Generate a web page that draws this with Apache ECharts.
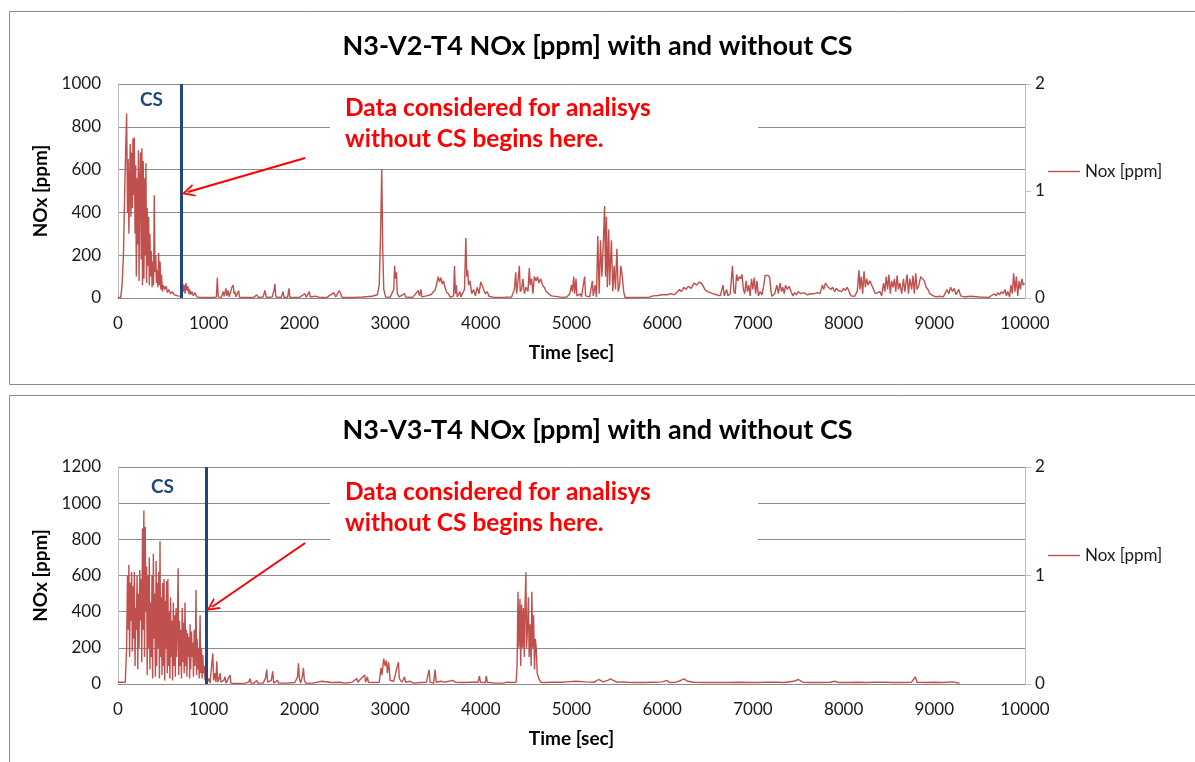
<!DOCTYPE html>
<html>
<head>
<meta charset="utf-8">
<script src="https://cdn.jsdelivr.net/npm/echarts@6/dist/echarts.min.js"></script>
<style>
html,body{margin:0;padding:0;background:#fff;}
#chart{width:1195px;height:762px;}
</style>
</head>
<body>
<div id="chart"></div>
<script>
// ---------- DATA ----------
const titleTop = 'N3-V2-T4 NOx [ppm] with and without CS';
const titleBottom = 'N3-V3-T4 NOx [ppm] with and without CS';
const seriesName = 'Nox [ppm]';
const xAxisName = 'Time [sec]';
const yAxisName = 'NOx [ppm]';
const noteLines = ['Data considered for analisys', 'without CS begins here.'];
const csLabel = 'CS';

// N3-V2-T4 (top)
const timeV2 = [0,30,45,60,75,85,95,105,112,120,128,135,142,150,158,165,172,180,188,195,202,210,218,225,232,240,248,256,263,270,278,286,293,300,308,315,322,330,338,345,352,360,368,376,384,392,400,408,416,424,432,440,448,456,464,472,480,490,500,515,530,545,560,580,600,620,640,660,680,700,712,720,730,740,750,760,770,780,790,800,815,830,850,870,900,950,1000,1060,1085,1095,1105,1140,1160,1170,1190,1200,1215,1225,1240,1255,1270,1280,1290,1300,1330,1340,1400,1500,1530,1545,1600,1620,1635,1700,1720,1730,1740,1800,1820,1830,1870,1885,1895,1950,2000,2060,2075,2110,2120,2180,2220,2300,2380,2400,2440,2455,2470,2500,2600,2700,2800,2860,2880,2895,2908,2918,2930,2950,3000,3040,3050,3060,3070,3080,3100,3160,3170,3250,3310,3325,3340,3350,3400,3450,3500,3530,3545,3560,3575,3590,3605,3620,3640,3665,3700,3710,3720,3730,3740,3770,3780,3820,3835,3845,3855,3865,3880,3900,3920,3940,3960,3980,4000,4015,4030,4050,4070,4090,4150,4250,4340,4370,4385,4395,4410,4425,4435,4450,4465,4480,4500,4520,4535,4545,4560,4575,4590,4610,4625,4640,4660,4680,4700,4720,4750,4780,4800,4900,4950,4980,5000,5010,5025,5035,5050,5060,5095,5110,5145,5155,5200,5230,5240,5260,5275,5290,5305,5320,5335,5350,5365,5375,5385,5395,5410,5420,5440,5455,5470,5485,5500,5515,5530,5545,5560,5575,5590,5700,5850,5900,5950,6000,6050,6100,6130,6160,6190,6210,6240,6260,6290,6320,6350,6380,6410,6440,6470,6500,6530,6560,6600,6640,6670,6685,6710,6725,6750,6775,6790,6805,6820,6835,6850,6865,6880,6895,6910,6925,6940,6955,6970,6985,7000,7015,7030,7045,7060,7080,7100,7120,7135,7150,7170,7185,7200,7210,7240,7265,7280,7300,7315,7330,7345,7360,7380,7400,7420,7440,7460,7480,7500,7530,7560,7600,7640,7680,7710,7740,7765,7780,7800,7820,7840,7860,7880,7900,7920,7940,7960,7980,8000,8020,8040,8060,8080,8100,8120,8150,8170,8180,8195,8210,8225,8240,8255,8270,8290,8310,8330,8350,8370,8400,8420,8440,8455,8470,8485,8500,8515,8530,8545,8560,8575,8590,8605,8620,8640,8660,8675,8700,8715,8730,8750,8765,8780,8795,8810,8830,8850,8870,8890,8910,8930,8950,8970,8990,9020,9060,9100,9140,9160,9180,9200,9220,9240,9270,9290,9330,9400,9500,9600,9660,9680,9700,9720,9740,9760,9780,9795,9810,9830,9845,9860,9875,9890,9905,9920,9935,9950,9965,9980,9995];
const noxV2 = [2,3,60,200,520,700,862,400,650,300,560,720,380,680,420,745,480,750,300,620,100,560,250,690,80,540,680,180,700,60,640,90,560,200,630,70,420,150,380,60,300,100,220,50,170,60,480,120,200,70,130,50,210,60,170,40,110,30,60,40,55,25,40,20,30,15,20,10,12,8,70,30,60,20,70,35,55,20,40,15,30,10,25,5,3,2,3,2,5,95,5,3,30,8,45,10,35,5,25,50,60,20,30,5,35,3,2,3,15,3,5,35,3,5,35,65,5,3,30,3,3,45,3,2,3,20,3,30,5,8,3,2,25,5,35,20,3,2,3,5,8,15,60,300,603,250,40,5,3,40,150,90,120,20,5,20,5,3,35,10,40,5,10,15,40,100,75,95,65,80,50,30,20,3,10,150,20,60,5,30,5,40,280,100,130,60,80,20,40,10,50,20,75,60,40,20,30,8,3,3,5,40,120,20,80,150,30,40,90,20,50,30,140,60,90,20,100,80,100,70,90,60,50,30,20,10,5,3,5,20,60,30,100,20,90,10,20,5,100,10,5,80,10,60,5,290,20,270,100,250,430,100,380,50,320,60,270,30,150,40,230,30,60,150,100,30,2,3,3,10,12,15,15,20,15,25,40,30,50,40,55,45,70,60,75,65,40,30,25,20,15,10,60,10,40,10,20,150,30,20,110,80,100,90,110,40,20,80,30,60,10,90,40,95,20,80,10,30,15,60,105,110,105,95,30,8,20,60,20,70,30,50,20,60,40,55,30,10,25,15,30,20,25,15,20,20,25,20,60,40,70,55,60,40,50,30,45,35,40,30,45,35,50,30,10,15,8,30,130,40,100,20,125,50,90,60,80,60,40,20,15,30,10,70,30,100,40,110,20,80,50,90,30,105,40,70,20,90,30,110,20,90,40,105,20,115,40,60,100,95,80,50,40,20,15,10,5,8,5,40,20,50,30,45,15,40,10,5,8,5,3,20,10,25,15,30,20,40,10,30,5,60,20,115,30,100,10,80,40,90,60,70];
const csTimeV2 = 700;

// N3-V3-T4 (bottom)
const timeV3 = [0,50,80,95,105,112,120,128,135,142,150,158,165,172,180,188,195,202,210,218,225,232,240,248,255,262,270,277,285,292,300,307,315,322,330,337,345,352,360,367,375,382,390,397,405,412,420,427,435,442,450,457,463,470,478,485,492,500,508,515,522,530,536,543,550,557,565,572,580,587,595,602,610,617,625,632,640,647,655,663,670,678,685,692,700,708,715,722,730,739,746,753,760,767,775,782,790,795,802,810,817,825,832,840,847,853,860,866,873,880,888,895,905,912,920,928,935,942,950,960,970,985,1000,1015,1045,1055,1070,1080,1089,1100,1115,1125,1135,1165,1180,1190,1210,1236,1245,1300,1400,1440,1456,1466,1500,1530,1540,1600,1625,1640,1650,1690,1706,1716,1760,1770,1850,1950,1980,1990,2000,2015,2035,2044,2055,2070,2150,2250,2265,2350,2450,2500,2580,2633,2645,2670,2690,2720,2730,2750,2760,2800,2880,2900,2910,2930,2945,2960,2970,2985,3000,3040,3080,3092,3102,3130,3160,3170,3220,3260,3330,3400,3430,3441,3480,3497,3508,3560,3600,3690,3710,3720,3800,3900,3970,3985,3995,4050,4060,4072,4150,4250,4287,4350,4390,4400,4410,4420,4432,4440,4450,4460,4470,4480,4488,4497,4505,4515,4525,4533,4545,4555,4563,4572,4582,4592,4602,4612,4622,4640,4662,4700,4800,4900,4950,5050,5150,5250,5298,5320,5350,5400,5430,5460,5500,5560,5620,5700,5800,5900,6000,6055,6080,6150,6200,6240,6280,6350,6450,6550,6650,6750,6850,6950,7050,7150,7250,7350,7450,7500,7550,7650,7750,7850,7900,7950,8050,8150,8250,8350,8450,8550,8650,8750,8790,8810,8900,9000,9100,9200,9240,9280];
const noxV3 = [10,10,10,200,600,300,660,150,560,350,620,180,540,250,620,100,420,300,600,80,500,200,630,350,580,120,860,300,960,150,870,400,650,50,600,200,700,80,450,150,600,30,720,250,500,40,680,100,560,200,620,30,790,150,480,50,560,100,580,20,460,200,570,60,580,100,400,30,480,150,350,20,450,100,380,40,420,150,330,640,50,350,100,300,30,420,120,340,60,450,100,300,40,280,150,260,30,330,80,290,150,230,40,300,100,200,520,50,250,80,200,30,380,60,200,30,160,60,100,20,50,10,30,5,170,20,60,10,125,10,30,60,10,20,40,5,10,50,5,3,5,10,30,5,5,20,5,5,30,80,10,20,70,5,20,5,5,8,40,115,30,5,50,90,20,5,5,15,5,8,10,5,10,30,10,25,15,50,10,40,10,8,10,90,50,140,100,130,60,120,20,15,100,120,30,10,40,10,15,5,8,10,80,10,5,80,10,15,10,20,25,10,8,10,10,45,10,8,45,10,5,5,10,8,10,100,510,200,470,100,440,200,420,150,440,618,200,320,480,150,330,100,510,200,380,80,250,190,60,30,10,8,10,10,12,15,12,10,25,15,12,20,28,20,10,12,10,8,8,10,12,20,8,10,18,28,15,10,8,8,8,8,10,8,8,10,10,8,15,25,10,8,8,10,15,8,8,10,8,10,10,8,8,10,40,10,8,10,8,12,8,5];
const csTimeV3 = 978;

// axis ranges
const xMin = 0, xMax = 10000, xStep = 1000;
const yMaxV2 = 1000, yMaxV3 = 1200, yStep = 200;
const rightMax = 2, rightStep = 1;

// annotation arrows (tail, head) in data units
const arrowV2 = [[2063, 654], [770, 495]];
const arrowV3 = [[2063, 780], [1035, 426]];

// ---------- STYLE ----------
const FONT = 'Lato, "Open Sans", sans-serif';
const RED = '#C0504D';
const BLUE = '#1F497D';
const GRID = '#8C8C8C';
const AXIS = '#BFBFBF';
const chevron = 'path://M0,12 L6,0 L12,12 L10.2,12 L6,3.6 L1.8,12 Z';
const plain = v => String(v);

function pairs(t, v) { return t.map((x, i) => [x, v[i]]); }

function xAxisCfg(gi) {
  return {
    type: 'value', gridIndex: gi, min: xMin, max: xMax, interval: xStep,
    name: xAxisName, nameLocation: 'middle', nameGap: 45,
    nameTextStyle: { fontFamily: FONT, fontWeight: 'bold', fontSize: 19, color: '#000' },
    axisLine: { show: true, lineStyle: { color: GRID, width: 1 } },
    axisTick: { show: false },
    axisLabel: { fontFamily: FONT, fontSize: 17, color: '#1a1a1a', margin: 17, formatter: plain },
    splitLine: { show: false }
  };
}
function yLeftCfg(gi, max) {
  return {
    type: 'value', gridIndex: gi, min: 0, max: max, interval: yStep, position: 'left',
    name: yAxisName, nameLocation: 'middle', nameGap: 62, nameRotate: 90,
    nameTextStyle: { fontFamily: FONT, fontWeight: 'bold', fontSize: 19, color: '#000' },
    axisLine: { show: true, lineStyle: { color: AXIS } },
    axisTick: { show: false },
    axisLabel: { fontFamily: FONT, fontSize: 17, color: '#1a1a1a', margin: 17, formatter: plain },
    splitLine: { show: true, lineStyle: { color: GRID, width: 1 } }
  };
}
function yRightCfg(gi) {
  return {
    type: 'value', gridIndex: gi, min: 0, max: rightMax, interval: rightStep, position: 'right',
    axisLine: { show: true, lineStyle: { color: AXIS } },
    axisTick: { show: true, length: 6, lineStyle: { color: AXIS } },
    axisLabel: { fontFamily: FONT, fontSize: 17, color: '#1a1a1a', margin: 10, formatter: plain },
    splitLine: { show: false }
  };
}
function seriesCfg(xi, yi, t, v, csT, arrow) {
  return {
    name: seriesName, type: 'line', xAxisIndex: xi, yAxisIndex: yi,
    data: pairs(t, v), symbol: 'none', smooth: false,
    lineStyle: { color: RED, width: 1.4 }, itemStyle: { color: RED },
    animation: false,
    markLine: {
      silent: true, animation: false, label: { show: false },
      data: [
        [{ coord: [csT, 0], symbol: 'none', lineStyle: { color: BLUE, width: 3, type: 'solid' } },
         { coord: [csT, yi === 0 ? yMaxV2 : yMaxV3], symbol: 'none' }],
        [{ coord: arrow[0], symbol: 'none', lineStyle: { color: '#FF0000', width: 2, type: 'solid' } },
         { coord: arrow[1], symbol: chevron, symbolSize: [13, 13] }]
      ]
    }
  };
}
function legendCfg(top) {
  return {
    data: [seriesName], left: 1043, top: top, orient: 'vertical',
    itemWidth: 32, itemHeight: 10, itemGap: 4, selectedMode: false,
    textStyle: { fontFamily: FONT, fontSize: 17, color: '#1a1a1a' },
    icon: 'path://M0,4.3 L32,4.3 L32,5.7 L0,5.7 Z'
  };
}
function noteText(x, y) {
  return [
    { type: 'rect', z: 1, shape: { x: x - 15, y: y - 20, width: 428, height: 68 }, style: { fill: '#fff' } },
    { type: 'text', z: 20, left: x, top: y - 15, style: { text: noteLines[0], fill: '#FF0000', font: 'bold 24.5px ' + FONT } },
    { type: 'text', z: 20, left: x, top: y + 16, style: { text: noteLines[1], fill: '#FF0000', font: 'bold 24.5px ' + FONT } }
  ];
}

const chart = echarts.init(document.getElementById('chart'), null, { renderer: 'canvas' });
chart.setOption({
  animation: false,
  backgroundColor: '#fff',
  title: [
    { text: titleTop, left: 'center', top: 28, textStyle: { fontFamily: FONT, fontWeight: 'bold', fontSize: 27, color: '#000' } },
    { text: titleBottom, left: 'center', top: 412, textStyle: { fontFamily: FONT, fontWeight: 'bold', fontSize: 27, color: '#000' } }
  ],
  legend: [legendCfg(158), legendCfg(542)],
  grid: [
    { left: 118, right: 170, top: 84, height: 214 },
    { left: 118, right: 170, top: 467, height: 217 }
  ],
  xAxis: [xAxisCfg(0), xAxisCfg(1)],
  yAxis: [yLeftCfg(0, yMaxV2), yRightCfg(0), yLeftCfg(1, yMaxV3), yRightCfg(1)],
  series: [
    seriesCfg(0, 0, timeV2, noxV2, csTimeV2, arrowV2),
    seriesCfg(1, 2, timeV3, noxV3, csTimeV3, arrowV3)
  ],
  graphic: [
    { type: 'rect', z: 0, silent: true, shape: { x: 9.5, y: 11.5, width: 1200, height: 373 }, style: { fill: 'none', stroke: '#8a8a8a', lineWidth: 1 } },
    { type: 'rect', z: 0, silent: true, shape: { x: 9.5, y: 395.5, width: 1200, height: 400 }, style: { fill: 'none', stroke: '#8a8a8a', lineWidth: 1 } },
    ...noteText(345, 111),
    ...noteText(345, 495),
    { type: 'text', z: 20, left: 140, top: 90, style: { text: csLabel, fill: BLUE, font: 'bold 19px ' + FONT } },
    { type: 'text', z: 20, left: 151, top: 477, style: { text: csLabel, fill: BLUE, font: 'bold 19px ' + FONT } }
  ]
});
</script>
</body>
</html>
